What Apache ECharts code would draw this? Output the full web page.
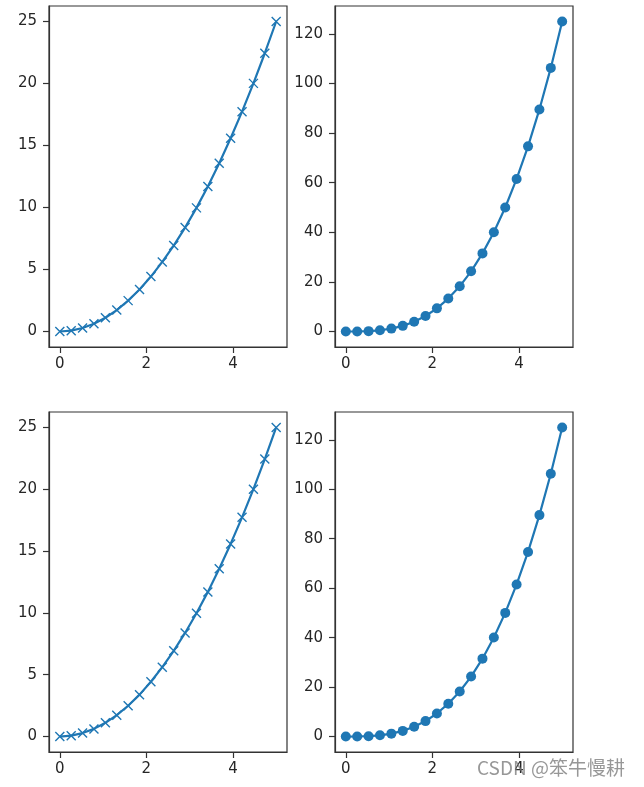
<!DOCTYPE html>
<html><head><meta charset="utf-8">
<script src="https://cdn.jsdelivr.net/npm/echarts@6/dist/echarts.min.js"></script>
<style>html,body{margin:0;padding:0;background:#fff}#c{width:644px;height:787px}</style>
</head><body><div id="c"></div>
<script>
var xVals = [0, 0.263, 0.526, 0.789, 1.053, 1.316, 1.579, 1.842, 2.105, 2.368, 2.632, 2.895, 3.158, 3.421, 3.684, 3.947, 4.211, 4.474, 4.737, 5];
var squareVals = [0, 0.07, 0.28, 0.62, 1.11, 1.73, 2.49, 3.39, 4.43, 5.61, 6.93, 8.38, 9.97, 11.70, 13.57, 15.58, 17.73, 20.01, 22.44, 25];
var cubeVals = [0, 0.02, 0.15, 0.49, 1.17, 2.28, 3.94, 6.25, 9.33, 13.28, 18.22, 24.26, 31.50, 40.04, 50.01, 61.51, 74.66, 89.55, 106.29, 125];
var xTicks = [0, 2, 4];
var squareTicks = [0, 5, 10, 15, 20, 25];
var cubeTicks = [0, 20, 40, 60, 80, 100, 120];
var watermark = 'CSDN @笨牛慢耕';

var blue = '#1f77b4';
var font = 'DejaVu Sans';
function pairs(xs, ys){ return xs.map(function(x,i){ return [x, ys[i]]; }); }

var grids = [
  {left:49, top:6, width:238, height:341},
  {left:335, top:6, width:238, height:341},
  {left:49, top:412, width:238, height:340},
  {left:335, top:412, width:238, height:340}
].map(function(g){ return Object.assign({show:true, borderColor:'#333', borderWidth:1.2, containLabel:false}, g); });

function xAxis(i){
  return {type:'value', gridIndex:i, min:-0.25, max:5.25,
    axisLine:{show:true, onZero:false, lineStyle:{color:'#333', width:1.2}}, splitLine:{show:false},
    axisTick:{show:true, inside:false, length:6, customValues:xTicks, lineStyle:{color:'#333', width:1.2}},
    axisLabel:{show:true, customValues:xTicks, margin:10, color:'#262626', fontFamily:font, fontSize:15}};
}
function yAxis(i, ticks, min, max){
  return {type:'value', gridIndex:i, min:min, max:max,
    axisLine:{show:true, onZero:false, lineStyle:{color:'#333', width:1.2}}, splitLine:{show:false},
    axisTick:{show:true, inside:false, length:6, customValues:ticks, lineStyle:{color:'#333', width:1.2}},
    axisLabel:{show:true, customValues:ticks, margin:12, color:'#262626', fontFamily:font, fontSize:15}};
}
var xMark = 'path://M0,0L10,10M10,0L0,10';
function sqSeries(i){
  return {type:'line', xAxisIndex:i, yAxisIndex:i, data:pairs(xVals, squareVals),
    symbol:xMark, symbolSize:9, showAllSymbol:true, clip:false,
    lineStyle:{color:blue, width:2.2},
    itemStyle:{color:'rgba(0,0,0,0)', borderColor:blue, borderWidth:1.4},
    emphasis:{disabled:true}, animation:false, z:3};
}
function cuSeries(i){
  return {type:'line', xAxisIndex:i, yAxisIndex:i, data:pairs(xVals, cubeVals),
    symbol:'circle', symbolSize:10, showAllSymbol:true, clip:false,
    lineStyle:{color:blue, width:2.2},
    itemStyle:{color:blue, borderWidth:0},
    emphasis:{disabled:true}, animation:false, z:3};
}
var chart = echarts.init(document.getElementById('c'), null, {renderer:'canvas'});
chart.setOption({
  backgroundColor:'#fff',
  animation:false,
  grid:grids,
  xAxis:[xAxis(0), xAxis(1), xAxis(2), xAxis(3)],
  yAxis:[yAxis(0, squareTicks, -1.25, 26.25), yAxis(1, cubeTicks, -6.25, 131.25),
         yAxis(2, squareTicks, -1.25, 26.25), yAxis(3, cubeTicks, -6.25, 131.25)],
  series:[sqSeries(0), cuSeries(1), sqSeries(2), cuSeries(3)],
  graphic:[{type:'text', left:477, top:758, z:100,
    style:{text:watermark, fill:'rgba(125,125,125,0.8)', font:'19px "Noto Sans CJK SC"'}}]
});
</script></body></html>
